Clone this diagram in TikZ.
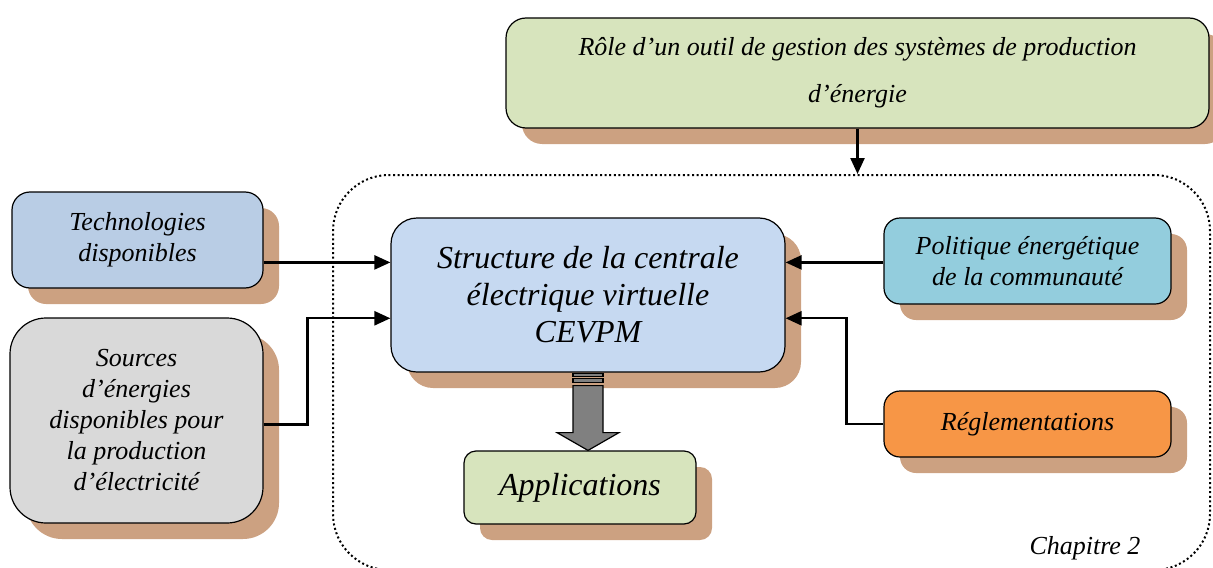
\documentclass[tikz,border=0pt]{standalone}
\usepackage{fontspec}
\setmainfont{Liberation Serif}
\usetikzlibrary{arrows.meta, positioning, calc, shadows}

\definecolor{greenbox}{HTML}{D7E4BD}
\definecolor{techblue}{HTML}{B9CDE5}
\definecolor{srcgray}{HTML}{D9D9D9}
\definecolor{mainblue}{HTML}{C6D9F1}
\definecolor{politeal}{HTML}{93CDDD}
\definecolor{reglorange}{HTML}{F79646}
\definecolor{shadowbrown}{HTML}{CCA181}

\tikzset{
  box/.style={draw, line width=0.6pt, align=center, inner sep=0pt,
    font=\fontsize{13}{15.5}\selectfont\itshape,
    drop shadow={shadow xshift=8pt, shadow yshift=-8pt, fill=shadowbrown, opacity=1}},
  arr/.style={-{Triangle[length=8pt,width=7pt]}, line width=1.2pt},
  bigarrow/.style={draw, fill=gray, line width=0.6pt}
}

\begin{document}
\begin{tikzpicture}[x=0.5pt, y=-0.5pt]
\useasboundingbox (0,0) rectangle (1213,567);
\clip (0,0) rectangle (1213,567);

% dotted frame
\node[draw, line width=1pt, dash pattern=on 1pt off 1.3pt, rounded corners=28pt,
  minimum width=438.5pt, minimum height=197.5pt] (frame) at (771.5,372.5) {};

% boxes
\node[box, fill=greenbox, rounded corners=10pt, minimum width=351.5pt, minimum height=55pt,
  font=\fontsize{13}{23.5}\selectfont\itshape] (role) at (857.5,73)
  {Rôle d’un outil de gestion des systèmes de production\\d’énergie};

\node[box, fill=techblue, rounded corners=9pt, minimum width=125.5pt, minimum height=48pt]
  (tech) at (137.5,240) {Technologies\\disponibles};

\node[box, fill=srcgray, rounded corners=18pt, minimum width=126.5pt, minimum height=102.5pt]
  (src) at (136.5,420.5) {Sources\\d’énergies\\disponibles pour\\la production\\d’électricité};

\node[box, fill=mainblue, rounded corners=13pt, minimum width=197pt, minimum height=77pt,
  font=\fontsize{16}{18.5}\selectfont\itshape] (main) at (588,295)
  {Structure de la centrale\\électrique virtuelle\\CEVPM};

\node[box, fill=greenbox, rounded corners=6pt, minimum width=116pt, minimum height=36.5pt,
  font=\fontsize{16}{18.5}\selectfont\itshape] (apps) at (580,487.5) {Applications};

\node[box, fill=politeal, rounded corners=8pt, minimum width=143.5pt, minimum height=43pt]
  (pol) at (1027.5,261) {Politique énergétique\\de la communauté};

\node[box, fill=reglorange, rounded corners=8pt, minimum width=143.5pt, minimum height=33pt]
  (regl) at (1027.5,424) {Réglementations};

\node[font=\fontsize{13}{15.5}\selectfont\itshape] (chap) at (1085,548) {Chapitre 2};

% ports on the main box
\coordinate (mainA) at ($(main.north west)!0.29!(main.south west)$);
\coordinate (mainB) at ($(main.north west)!0.65!(main.south west)$);
\coordinate (mainC) at ($(main.north east)!0.29!(main.south east)$);
\coordinate (mainD) at ($(main.north east)!0.65!(main.south east)$);

% connectors
\draw[arr] (role.south) -- (role.south |- frame.north);
\draw[arr] (tech.east |- mainA) -- (mainA);
\draw[arr] ([yshift=-2pt]src.east) -- ++(44,0) |- (mainB);
\draw[arr] (pol.west |- mainC) -- (mainC);
\draw[arr] (regl.west) -- ++(-37,0) |- (mainD);

% block arrow to applications
\draw[bigarrow] ($(main.south)+(-15,1)$) rectangle ($(main.south)+(15,4)$);
\draw[bigarrow] ($(main.south)+(-15,6)$) rectangle ($(main.south)+(15,10)$);
\draw[bigarrow] ($(main.south)+(-15,13)$) -- ($(main.south)+(-15,60)$)
  -- ($(main.south)+(-31,60)$) -- (main.south |- apps.north)
  -- ($(main.south)+(31,60)$) -- ($(main.south)+(15,60)$)
  -- ($(main.south)+(15,13)$) -- cycle;

\end{tikzpicture}
\end{document}
